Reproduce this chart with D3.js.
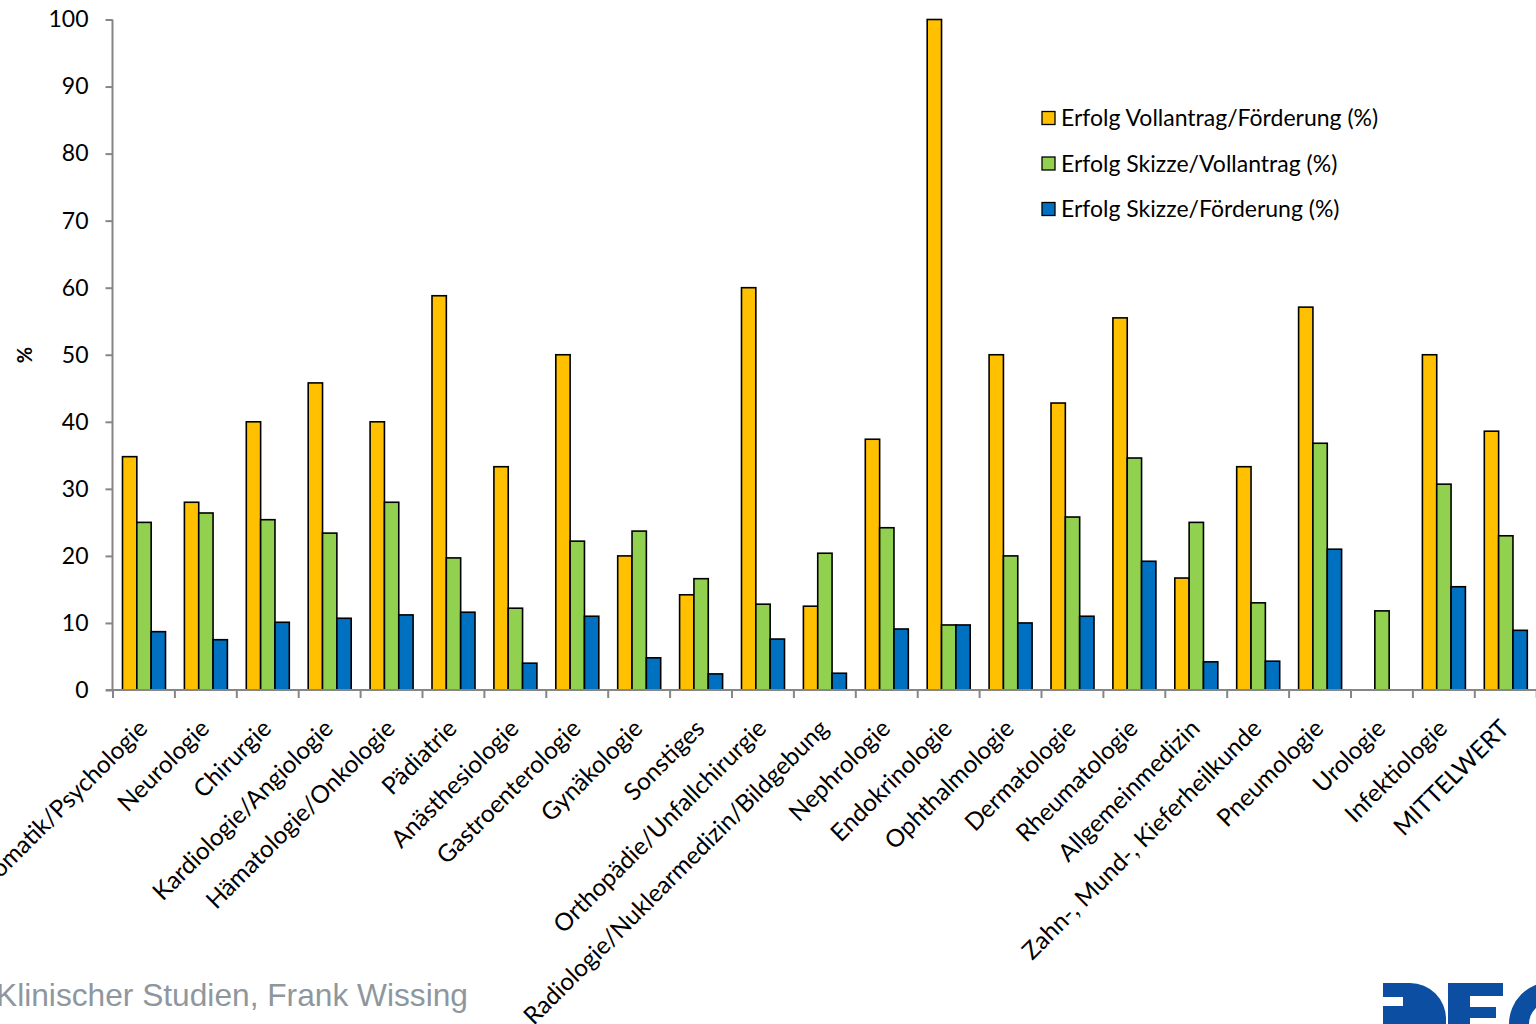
<!DOCTYPE html>
<html><head><meta charset="utf-8">
<script src="https://cdn.jsdelivr.net/npm/d3@7/dist/d3.min.js"></script>
<style>html,body{margin:0;padding:0;background:#fff;overflow:hidden}</style>
</head><body>
<svg id="c" width="1536" height="1024"></svg>
<script>
const categories = ["Psychosomatik/Psychologie","Neurologie","Chirurgie","Kardiologie/Angiologie","Hämatologie/Onkologie","Pädiatrie","Anästhesiologie","Gastroenterologie","Gynäkologie","Sonstiges","Orthopädie/Unfallchirurgie","Radiologie/Nuklearmedizin/Bildgebung","Nephrologie","Endokrinologie","Ophthalmologie","Dermatologie","Rheumatologie","Allgemeinmedizin","Zahn-, Mund-, Kieferheilkunde","Pneumologie","Urologie","Infektiologie","MITTELWERT"];
const seriesNames = ["Erfolg Vollantrag/Förderung (%)","Erfolg Skizze/Vollantrag (%)","Erfolg Skizze/Förderung (%)"];
const vollantragFoerderung = [34.8,28.0,40.0,45.8,40.0,58.8,33.3,50.0,20.0,14.2,60.0,12.5,37.4,100,50.0,42.8,55.5,16.7,33.3,57.1,0,50.0,38.6];
const skizzeVollantrag     = [25.0,26.4,25.4,23.4,28.0,19.7,12.2,22.2,23.7,16.6,12.8,20.4,24.2,9.7,20.0,25.8,34.6,25.0,13.0,36.8,11.8,30.7,23.0];
const skizzeFoerderung     = [8.7,7.5,10.1,10.7,11.2,11.6,4.0,11.0,4.8,2.4,7.6,2.5,9.1,9.7,10.0,11.0,19.2,4.2,4.3,21.0,0,15.4,8.9];
const yTicks = [0,10,20,30,40,50,60,70,80,90,100];
const colors = ["#FFC000","#92D050","#0070C0"];
const footerText = "Klinischer Studien, Frank Wissing";

const series = [vollantragFoerderung, skizzeVollantrag, skizzeFoerderung];
const svg = d3.select("#c");
const FONT = "Lato, 'Open Sans', sans-serif";
const x0 = 113, bandW = 61.9;
const x = d3.scaleBand().domain(categories).range([x0, x0 + bandW*categories.length]).padding(0);
const x1 = d3.scaleBand().domain(d3.range(3)).range([9.5, 52.5]).padding(0);
const y = d3.scaleLinear().domain([0,100]).range([690, 19.5]);
const axisColor = "#868686";

// bars
const g = svg.append("g");
categories.forEach((c, i) => {
  series.forEach((s, k) => {
    const v = s[i];
    if (!v) return;
    g.append("rect")
      .attr("x", x(c) + x1(k))
      .attr("y", y(v))
      .attr("width", x1.bandwidth())
      .attr("height", y(0) - y(v))
      .attr("fill", colors[k])
      .attr("stroke", "#000")
      .attr("stroke-width", 1.6);
  });
});

// y axis
const ya = svg.append("g").attr("transform", `translate(${x0 - 0.5},0)`)
  .call(d3.axisLeft(y).tickValues(yTicks).tickSize(7).tickPadding(17).tickFormat(d3.format("d")));
ya.selectAll("path,line").attr("stroke", axisColor).attr("stroke-width", 2);
ya.select(".domain").attr("d", `M0,${y(100)}V${y(0)}`);
ya.selectAll("text").attr("font-family", FONT).attr("font-size", 23).attr("fill", "#000");

// x axis
const xa = svg.append("g").attr("transform", `translate(0,${y(0)})`);
xa.append("line").attr("x1", x0 - 7).attr("x2", 1536).attr("y1", 0).attr("y2", 0)
  .attr("stroke", axisColor).attr("stroke-width", 2);
const bounds = categories.map(c => x(c)).concat([x(categories[categories.length-1]) + bandW]);
xa.selectAll("line.tk").data(bounds).enter().append("line").attr("class","tk")
  .attr("x1", d => d).attr("x2", d => d).attr("y1", 0).attr("y2", 8)
  .attr("stroke", axisColor).attr("stroke-width", 2);
xa.selectAll("text.lbl").data(categories).enter().append("text").attr("class","lbl")
  .attr("transform", c => `translate(${x(c) + bandW/2 + 5},${40}) rotate(-45)`)
  .attr("text-anchor", "end")
  .attr("font-family", FONT).attr("font-size", 24.3).attr("fill", "#000")
  .text(c => c);

// y label
svg.append("text").attr("transform", "translate(32,355) rotate(-90)")
  .attr("text-anchor", "middle").attr("font-family", FONT).attr("font-weight", "bold")
  .attr("font-size", 20).text("%");

// legend
const lg = svg.append("g").attr("transform", "translate(1042,0)");
seriesNames.forEach((n, k) => {
  const cy = 118 + k*45.5;
  lg.append("rect").attr("x", 0).attr("y", cy - 6.5).attr("width", 13).attr("height", 13)
    .attr("fill", colors[k]).attr("stroke", "#000").attr("stroke-width", 1.3);
  lg.append("text").attr("x", 19).attr("y", cy).attr("dy", "0.36em")
    .attr("font-family", FONT).attr("font-size", 23).attr("fill", "#000").text(n);
});

// footer
svg.append("text").attr("x", -4).attr("y", 1006)
  .attr("font-family", "'Liberation Sans', Arial, sans-serif").attr("font-size", 31.7)
  .attr("fill", "#8E979E").text(footerText);

// logo (DFG, partly outside the picture)
const logo = svg.append("g").attr("fill", "#0B4EA2");
logo.append("path").attr("d", "M1383,983 H1410 A36,36 0 0 1 1446,1019 V1024 H1383 Z");
logo.append("rect").attr("x", 1383).attr("y", 997).attr("width", 20).attr("height", 9).attr("fill", "#fff");
logo.append("rect").attr("x", 1448).attr("y", 983).attr("width", 55).attr("height", 13);
logo.append("rect").attr("x", 1448).attr("y", 983).attr("width", 22).attr("height", 41);
logo.append("rect").attr("x", 1448).attr("y", 1007).attr("width", 48).attr("height", 11);
logo.append("path").attr("d", "M1509,1024 A42,42 0 0 1 1551,982 V1002 A22,22 0 0 0 1529,1024 Z");
</script>
</body></html>
